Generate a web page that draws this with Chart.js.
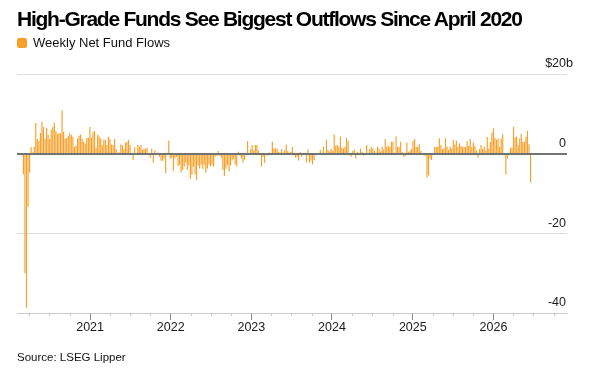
<!DOCTYPE html>
<html>
<head>
<meta charset="utf-8">
<script src="https://cdn.jsdelivr.net/npm/chart.js@4.4.1/dist/chart.umd.min.js"></script>
<style>
  html, body { margin: 0; padding: 0; background: #fff; }
  body { width: 591px; height: 379px; position: relative; overflow: hidden; font-family: "Liberation Sans", Arial, sans-serif; color: #111; }
  canvas { position: absolute; left: 0; top: 0; }
  .txt { position: absolute; left: 17px; line-height: 1; white-space: nowrap; }
  #title { top: 8px; font-size: 21px; font-weight: bold; letter-spacing: -1.25px; color: #000; }
  #legend { top: 36px; font-size: 13px; display: flex; align-items: center; }
  #legend .sw { width: 10px; height: 10px; border-radius: 2px; background: #f7a029; margin-right: 6px; }
  #source { top: 352px; font-size: 11.5px; }
</style>
</head>
<body>
<canvas id="chart" width="591" height="379"></canvas>
<div class="txt" id="title">High-Grade Funds See Biggest Outflows Since April 2020</div>
<div class="txt" id="legend"><span class="sw"></span>Weekly Net Fund Flows</div>
<div class="txt" id="source">Source: LSEG Lipper</div>
<script>
// weekly net flows, $ billions, first week ending 2020-03-05
const firstWeek = Date.UTC(2020, 2, 5);
const flows2020 = [-5.2, -30, -38.7, -13.4, -4.8, 1.7, 0.3, 1.7, 7.7, 3.7, 3.2, 5.2, 8.0, 6.7, 3.8,
  6.5, 4.7, 3.7, 6.0, 6.7, 7.8, 5.7, 5.0, 5.1, 5.1, 10.9, 5.5, 3.8, 4.0, 4.5, 5.1, 4.7, 4.2, 1.75, 2.0,
  3.8, 4.5, 4.8, 3.7, 3.0, 2.5, 4.0, 4.0, 6.7];
const flows2021 = [4.0, 5.3, 5.7, 1.5, 4.7, 4.3, 3.8, 2.2, 3.5, 3.5, 2.2, 4.25, 3.7, 2.3, 2.2, 3.7, 1.2, 0.2, 0.3, 2.3,
  2.2, 1.2, 2.75, 3.0, 3.4, 2.2, -0.2, -1.6, 1.6, 0, 2.2, 1.75, 2.2, 1.0, 1.3, 1.2, 1.5, -0.2, -1.0, 1.3,
  -2.25, 0.8, -0.3, 0.3, -0.75, -1.75, -1.8, -1.2, -4.9, -0.3, 3.3, -1.3];
const flows2022 = [-1.0, -4.3, -1.2, -0.8, -3.1, -2.8, -4.7, -4.1, -3.25, -2.25, -4.1, -3.0, -6.3, -5.3, -3.25, -5.2,
  -6.6, -3.0, -3.7, -2.7, -3.8, -2.8, -4.7, -3.7, -2.7, -3.25, -2.8, -3.2, -0.75, -0.5, 0.7, -0.5, -1.0,
  -4.1, -5.6, -3.8, -2.8, -4.5, -3.0, -1.7, -1.3, -2.7, -3.25, 0.5, -0.5, -1.2, -2.2, -1.5, -0.2, 3.2, 0, 1.2];
const flows2023 = [2.2, 0.8, 2.2, 2.2, 0.8, -0.2, -3.25, -0.75, -2.25, -0.2, -0.5, 0.3, 0, 3.0, 1.3, 1.3, 1.3, 0.5,
  0.3, 1.2, 0.3, 0.9, 2.3, 0.7, 0.3, 0.5, 1.7, 0.3, -1.0, -0.8, -1.7, 0.5, -0.8, -0.3, 0.1, -2.2, 1.1, -2.3,
  -1.8, -2.7, -1.6, -0.3, -0.2, 0, 1.0, -0.2, 1.75, -0.2, 3.4, 0.9, 0.5, 1.2];
const flows2024 = [0.75, 4.8, 2.0, 2.2, 1.75, 4.3, 1.5, 1.3, 1.75, 4.0, 3.2, 0, -0.75, 0.7, 1.0, -1.2, 0.5, -0.2,
  1.3, 0.5, -0.5, 0, 2.2, 0, 1.2, 1.7, 1.3, 0.8, -0.3, 1.75, 1.3, 0.5, 1.75, 1.0, 3.7, 1.75, 2.0, 1.7, 3.0,
  3.0, -0.2, 4.3, 1.75, 1.7, 3.0, 0.5, -0.75, -0.5, 2.8, 0.5, 0.75, 1.2];
const flows2025 = [3.2, 3.7, 1.7, 1.7, 2.5, 0.7, 0, -0.4, -0.5, -6.0, -5.5, -1.2, -1.6, 0, 1.7, 1.7, 1.75, 3.9,
  2.2, 1.2, 1.3, 3.9, 1.75, 1.0, 1.75, 1.3, 3.4, 2.3, 3.3, 1.7, 2.6, 1.9, 1.75, 1.7, 1.7, 3.1, 2.0, 3.7,
  1.7, 2.8, 2.0, 0.8, -1.0, 1.2, 2.2, 1.2, 1.8, 0.8, 4.2, 1.3, 3.0, 5.25];
const flows2026 = [6.4, 4.0, 3.5, 3.8, 1.75, 3.8, 4.9, 0, -5.2, -1.3, 0, 1.5, 1.5, 6.7, 4.0, 4.3,
  2.2, 3.8, 5.0, 3.0, 3.0, 4.25, 5.75, 2.3, -7.2];

const yearTicks = [2021, 2022, 2023, 2024, 2025, 2026];
const yTickValues = [-40, -20, 0, 20];
const yTickLabels = ['-40', '-20', '0', '$20b'];

const flows = [].concat(flows2020, flows2021, flows2022, flows2023, flows2024, flows2025, flows2026);
const DAY = 864e5;
const weekDates = flows.map((v, i) => firstWeek + i * 7 * DAY);

const xMin = Date.UTC(2020, 1, 5);
const xMax = Date.UTC(2026, 10, 30);
const quarterTicks = [];
[2020].concat(yearTicks).forEach(yr => {
  [0, 3, 6, 9].forEach(m => {
    const t = Date.UTC(yr, m, 1);
    if (t > xMin && t < xMax) quarterTicks.push(t);
  });
});
const isYear = v => new Date(v).getUTCMonth() === 0;

const FONT = '"Liberation Sans", Arial, sans-serif';
const barColor = '#f7a029';

const overlay = {
  id: 'overlay',
  afterDatasetsDraw(chart) {
    const { ctx, chartArea: a, scales: { x, y } } = chart;
    ctx.save();
    // zero line sits on top of the bars
    const y0 = Math.round(y.getPixelForValue(0));
    ctx.strokeStyle = '#737373';
    ctx.lineWidth = 2;
    ctx.beginPath();
    ctx.moveTo(a.left, y0);
    ctx.lineTo(a.right, y0);
    ctx.stroke();

    // short quarter ticks
    ctx.strokeStyle = '#cccccc';
    ctx.lineWidth = 1;
    quarterTicks.forEach(t => {
      if (isYear(t)) return;
      const px = Math.round(x.getPixelForValue(t)) + 0.5;
      ctx.beginPath();
      ctx.moveTo(px, a.bottom);
      ctx.lineTo(px, a.bottom + 3);
      ctx.stroke();
    });

    // y labels above their gridlines, unit hanging to the right
    ctx.font = '12.5px ' + FONT;
    ctx.fillStyle = '#1a1a1a';
    ctx.textBaseline = 'middle';
    yTickValues.forEach((v, i) => {
      let label = yTickLabels[i];
      let suffix = '';
      if (label.endsWith('b')) { suffix = 'b'; label = label.slice(0, -1); }
      const py = y.getPixelForValue(v) - 10;
      ctx.textAlign = 'right';
      ctx.fillText(label, a.right - 1, py);
      if (suffix) {
        ctx.textAlign = 'left';
        ctx.fillText(suffix, a.right - 1, py);
      }
    });
    ctx.restore();
  }
};

new Chart(document.getElementById('chart'), {
  type: 'bar',
  data: {
    datasets: [{
      label: 'Weekly Net Fund Flows',
      data: flows.map((v, i) => ({ x: weekDates[i], y: v })),
      backgroundColor: barColor,
      borderWidth: 0,
      categoryPercentage: 1,
      barPercentage: 0.75
    }]
  },
  options: {
    responsive: false,
    animation: false,
    layout: { padding: { left: 17, right: 24, top: 74, bottom: 44 } },
    plugins: { legend: { display: false }, tooltip: { enabled: false } },
    scales: {
      x: {
        type: 'linear',
        min: xMin,
        max: xMax,
        offset: false,
        afterBuildTicks: axis => { axis.ticks = quarterTicks.map(v => ({ value: v })); },
        grid: {
          offset: false,
          drawOnChartArea: false,
          tickLength: 7,
          tickWidth: 1,
          tickColor: c => isYear(c.tick.value) ? '#8a8a8a' : 'rgba(0,0,0,0)'
        },
        border: { color: '#cccccc' },
        ticks: {
          autoSkip: false,
          maxRotation: 0,
          padding: 0,
          color: '#1a1a1a',
          font: { family: FONT, size: 12.5 },
          callback: v => isYear(v) ? String(new Date(v).getUTCFullYear()) : ''
        }
      },
      y: {
        position: 'right',
        min: -40,
        max: 20,
        afterBuildTicks: axis => { axis.ticks = yTickValues.map(v => ({ value: v })); },
        grid: {
          drawTicks: false,
          color: c => c.tick.value === 0 ? 'rgba(0,0,0,0)' : '#dddddd'
        },
        border: { display: false },
        ticks: { display: false }
      }
    }
  },
  plugins: [overlay]
});
</script>
</body>
</html>
